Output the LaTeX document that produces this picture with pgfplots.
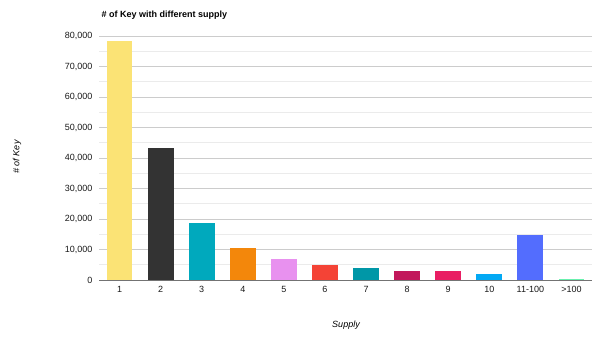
\documentclass[border=0pt]{standalone}
\usepackage{pgfplots}
\pgfplotsset{compat=1.18}
\usepackage{fontspec}
\setmainfont{Liberation Sans}
\definecolor{c1}{HTML}{FBE375}
\definecolor{c2}{HTML}{333333}
\definecolor{c3}{HTML}{00A9BD}
\definecolor{c4}{HTML}{F3870B}
\definecolor{c5}{HTML}{E891EF}
\definecolor{c6}{HTML}{F44336}
\definecolor{c7}{HTML}{0097A7}
\definecolor{c8}{HTML}{C2185B}
\definecolor{c9}{HTML}{E91E63}
\definecolor{c10}{HTML}{03A9F4}
\definecolor{c11}{HTML}{536DFE}
\definecolor{c12}{HTML}{69F0AE}
\definecolor{gridmaj}{HTML}{CCCCCC}
\definecolor{gridmin}{HTML}{EBEBEB}
\begin{document}
\begin{tikzpicture}[x=1pt,y=1pt]
\path[use as bounding box] (0,0) rectangle (600,341);
\begin{axis}[
  at={(99pt,61pt)}, anchor=south west,
  scale only axis, width=493pt, height=244pt,
  ymin=0, ymax=80000, xmin=-0.5, xmax=11.5,
  ytick={0,10000,...,80000},
  minor y tick num=1,
  ymajorgrids, yminorgrids,
  major grid style={gridmaj, line width=0.7pt},
  minor grid style={gridmin, line width=0.7pt},
  axis line style={draw=none},
  major tick length=0pt, minor tick length=0pt,
  xtick={0,...,11},
  xticklabels={1,2,3,4,5,6,7,8,9,10,11-100,>100},
  scaled y ticks=false,
  /pgf/number format/assume math mode=true,
  yticklabel style={/pgf/number format/1000 sep={,}, font=\fontsize{9}{10}\selectfont, text=black!90, xshift=-3pt},
  xticklabel style={font=\fontsize{9}{10}\selectfont, text=black!90, yshift=-3pt},
  ybar, bar width=0.63, bar shift=0pt,
  clip=false,
]
\addplot[fill=c1, draw=none] coordinates {(0,78200)};
\addplot[fill=c2, draw=none] coordinates {(1,43300)};
\addplot[fill=c3, draw=none] coordinates {(2,18800)};
\addplot[fill=c4, draw=none] coordinates {(3,10600)};
\addplot[fill=c5, draw=none] coordinates {(4,6900)};
\addplot[fill=c6, draw=none] coordinates {(5,4900)};
\addplot[fill=c7, draw=none] coordinates {(6,3950)};
\addplot[fill=c8, draw=none] coordinates {(7,3050)};
\addplot[fill=c9, draw=none] coordinates {(8,2800)};
\addplot[fill=c10, draw=none] coordinates {(9,2000)};
\addplot[fill=c11, draw=none] coordinates {(10,14800)};
\addplot[fill=c12, draw=none] coordinates {(11,300)};
\draw[black!55, line width=0.8pt] (axis cs:-0.5,0) -- (axis cs:11.5,0);
\end{axis}
\node[anchor=west, font=\bfseries\fontsize{9}{10}\selectfont] at (98,326) {\# of Key with different supply};
\node[rotate=90, font=\itshape\fontsize{9}{10}\selectfont] at (17,184) {\# of Key};
\node[font=\itshape\fontsize{9}{10}\selectfont] at (346,16) {Supply};
\end{tikzpicture}
\end{document}
